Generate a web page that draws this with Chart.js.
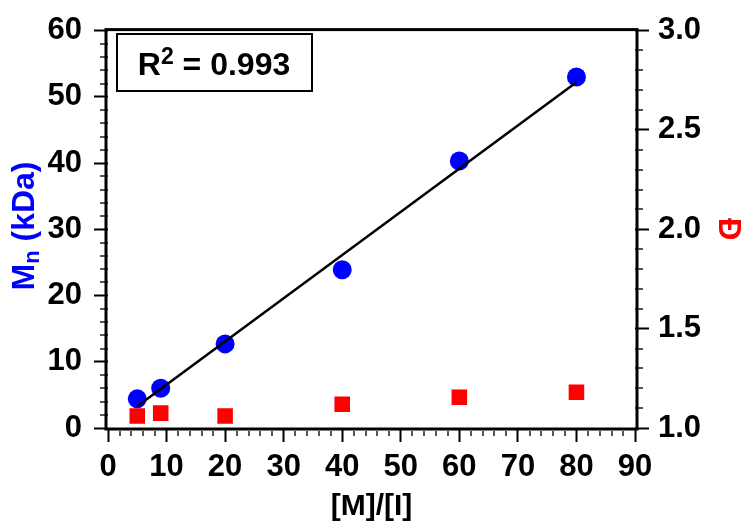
<!DOCTYPE html>
<html>
<head>
<meta charset="utf-8">
<script src="https://cdn.jsdelivr.net/npm/chart.js@4"></script>
<style>body{margin:0;background:#fff}</style>
</head>
<body>
<canvas id="chart" width="743" height="525"></canvas>
<script>
var ratio = [5, 9, 20, 40, 60, 80];
var mnValues = [4.4, 6.0, 12.7, 23.9, 40.3, 53.0];
var dispValues = [1.06, 1.075, 1.06, 1.12, 1.155, 1.18];
var fitX = [5, 80];
var fitY = [3.3, 52.2];
var r2Value = "0.993";

function pts(xs, ys) {
  return xs.map(function (x, i) { return {x: x, y: ys[i]}; });
}

var FONT = "'Liberation Sans', Arial, sans-serif";
var tickFont = {family: FONT, size: 31, weight: 'bold'};

// draws text pieces in a row; each piece: [text, fontSize, yShift]
function drawPieces(ctx, pieces, cx, y) {
  var total = 0, i;
  pieces.forEach(function (p) {
    ctx.font = 'bold ' + p[1] + 'px ' + FONT;
    p.w = ctx.measureText(p[0]).width;
    total += p.w;
  });
  var x = cx - total / 2;
  for (i = 0; i < pieces.length; i++) {
    ctx.font = 'bold ' + pieces[i][1] + 'px ' + FONT;
    ctx.fillText(pieces[i][0], x, y + pieces[i][2]);
    x += pieces[i].w;
  }
}

// frame, minor ticks, R² box and the left title (it has a subscript)
var decor = {
  id: 'decor',
  afterDraw: function (chart) {
    var ctx = chart.ctx, a = chart.chartArea;
    var sx = chart.scales.x, sy = chart.scales.y, sy2 = chart.scales.y2;
    var i, p;
    ctx.save();
    ctx.strokeStyle = '#555';
    ctx.lineWidth = 2;
    ctx.beginPath();
    for (i = 2; i < 90; i += 2) {
      if (i % 10 === 0) continue;
      p = Math.round(sx.getPixelForValue(i));
      ctx.moveTo(p, a.bottom + 3); ctx.lineTo(p, a.bottom + 8);
    }
    for (i = 2; i < 60; i += 2) {
      if (i % 10 === 0) continue;
      p = Math.round(sy.getPixelForValue(i));
      ctx.moveTo(a.left - 8, p); ctx.lineTo(a.left, p);
    }
    for (i = 11; i < 30; i++) {
      if (i % 5 === 0) continue;
      p = Math.round(sy2.getPixelForValue(i / 10));
      ctx.moveTo(a.right, p); ctx.lineTo(a.right + 8, p);
    }
    ctx.stroke();

    ctx.strokeStyle = '#000';
    ctx.lineWidth = 3;
    ctx.strokeRect(a.left - 2, a.top - 1, a.right - a.left + 4, a.bottom - a.top + 2);

    ctx.lineWidth = 2;
    ctx.strokeRect(117, 34, 195, 57);
    ctx.fillStyle = '#000';
    ctx.textAlign = 'left';
    ctx.textBaseline = 'alphabetic';
    drawPieces(ctx, [['R', 32, 0], ['2', 23, -11], [' = ' + r2Value, 32, 0]], 214, 75);

    ctx.translate(25, 226);
    ctx.rotate(-Math.PI / 2);
    ctx.fillStyle = '#0000ff';
    ctx.textBaseline = 'middle';
    drawPieces(ctx, [['M', 32, 0], ['n', 22, 8], [' (kDa)', 32, 0]], 0, 0);
    ctx.restore();
  }
};

new Chart('chart', {
  type: 'scatter',
  data: {
    datasets: [{
      data: pts(fitX, fitY),
      showLine: true,
      borderColor: '#000',
      borderWidth: 2.5,
      pointRadius: 0,
      yAxisID: 'y'
    }, {
      data: pts(ratio, mnValues),
      pointStyle: 'circle',
      pointRadius: 9.5,
      backgroundColor: '#0000ff',
      borderWidth: 0,
      yAxisID: 'y'
    }, {
      data: pts(ratio, dispValues),
      pointStyle: 'rect',
      pointRadius: 11,
      backgroundColor: '#ff0000',
      borderWidth: 0,
      yAxisID: 'y2'
    }]
  },
  options: {
    responsive: false,
    devicePixelRatio: 1,
    animation: false,
    layout: {padding: {top: 26, left: 0, right: 0, bottom: 0}},
    plugins: {legend: {display: false}, tooltip: {enabled: false}},
    scales: {
      x: {
        type: 'linear', min: 0, max: 90,
        ticks: {stepSize: 10, font: tickFont, color: '#000', padding: 7, maxRotation: 0},
        grid: {drawOnChartArea: false, tickLength: 14, tickWidth: 2, tickColor: '#000'},
        border: {display: false},
        title: {display: true, text: '[M]/[I]', color: '#000', font: {family: FONT, size: 30, weight: 'bold'}, padding: {top: 0, bottom: 0}},
        afterFit: function (s) { s.height = 97; }
      },
      y: {
        position: 'left', min: 0, max: 60,
        ticks: {stepSize: 10, font: tickFont, color: '#000', padding: 12},
        grid: {drawOnChartArea: false, tickLength: 14, tickWidth: 2, tickColor: '#000'},
        border: {display: false},
        afterFit: function (s) { s.width = 108; }
      },
      y2: {
        position: 'right', min: 1, max: 3,
        ticks: {stepSize: 0.5, font: tickFont, color: '#000', padding: 9,
          callback: function (v) { return v.toFixed(1); }},
        grid: {drawOnChartArea: false, tickLength: 14, tickWidth: 2, tickColor: '#000'},
        border: {display: false},
        title: {display: true, text: '\u0110', color: '#ff0000', font: {family: FONT, size: 31, weight: 'bold', lineHeight: 1}, padding: {top: 0, bottom: 0}},
        afterFit: function (s) { s.width = 108; }
      }
    }
  },
  plugins: [decor]
});
</script>
</body>
</html>
